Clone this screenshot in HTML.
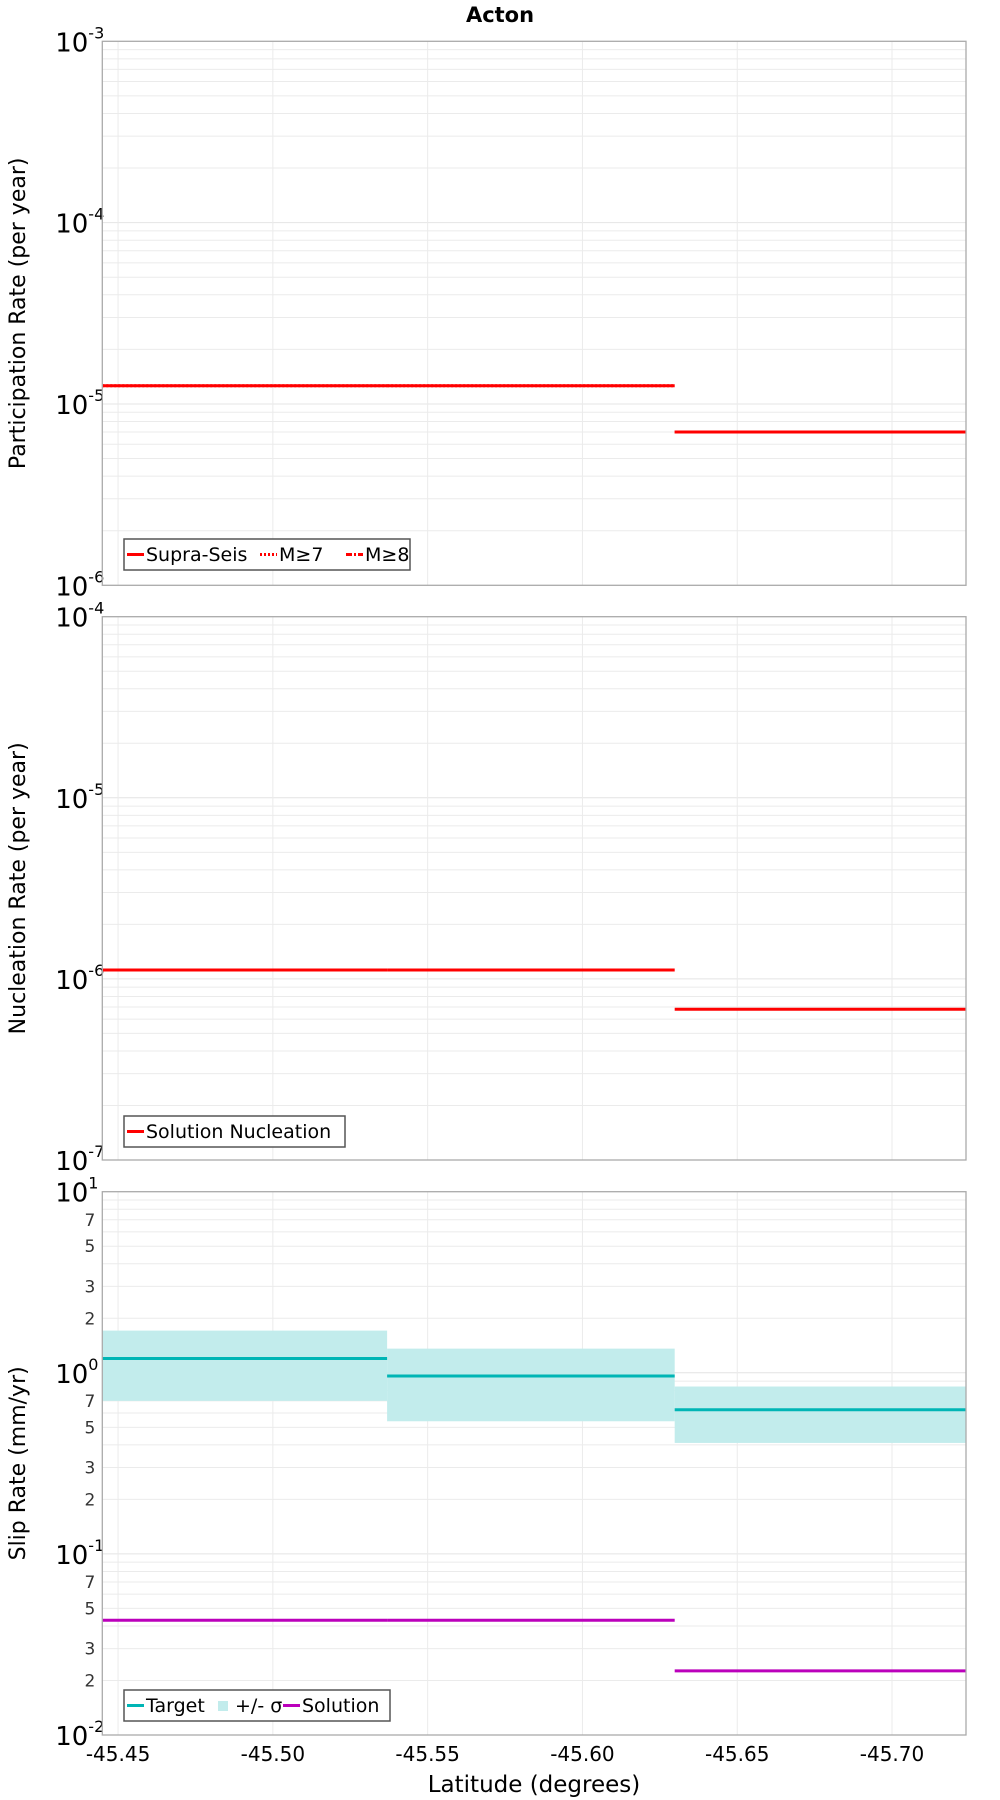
<!DOCTYPE html>
<html><head><meta charset="utf-8"><style>
html,body{margin:0;padding:0;background:#fff}
svg{display:block;font-family:"DejaVu Sans","Liberation Sans",sans-serif}
</style></head><body>
<svg id="c" width="1000" height="1800" viewBox="0 0 1000 1800" xmlns="http://www.w3.org/2000/svg">
<text x="500" y="22" text-anchor="middle" font-size="21" font-weight="bold">Acton</text>
</svg>
<script>
// Data
const segStart = [-45.4449, -45.5369, -45.6298];
const segEnd = [-45.5369, -45.6298, -45.7239];
const supraSeis = [1.26e-5, 1.26e-5, 7.0e-6];
const m7 = [1.26e-5, 1.26e-5, 7.0e-6];
const nucleation = [1.12e-6, 1.12e-6, 6.8e-7];
const slipTarget = [1.2, 0.96, 0.625];
const slipUpper = [1.71, 1.36, 0.84];
const slipLower = [0.70, 0.54, 0.41];
const slipSolution = [0.043, 0.043, 0.0226];
const xTicks = [-45.45, -45.50, -45.55, -45.60, -45.65, -45.70];
const xTickLabels = ["-45.45", "-45.50", "-45.55", "-45.60", "-45.65", "-45.70"];

const NS = "http://www.w3.org/2000/svg";
const svg = document.getElementById('c');
const L = 102.3, R = 966;
const xDom = [-45.4449, -45.7239];
function xs(v){ return L + (v - xDom[0]) / (xDom[1] - xDom[0]) * (R - L); }
function mk(tag, attrs, parent){ const e = document.createElementNS(NS, tag); for (const k in attrs) e.setAttribute(k, attrs[k]); (parent||svg).appendChild(e); return e; }

const panels = [
  {top:41.3, bot:585.3, lo:-6, hi:-3, title:"Participation Rate (per year)", minorLabels:false, name:"participation"},
  {top:616.7, bot:1160, lo:-7, hi:-4, title:"Nucleation Rate (per year)", minorLabels:false, name:"nucleation"},
  {top:1191.7, bot:1735, lo:-2, hi:1, title:"Slip Rate (mm/yr)", minorLabels:true, name:"slip-rate"}
];
panels.forEach(p => {
  p.ys = v => p.bot - (Math.log10(v) - p.lo) / (p.hi - p.lo) * (p.bot - p.top);
  const g = mk('g', {});
  
  
  p.g = g;
  for (let d = p.lo; d < p.hi; d++) {
    for (let m = 1; m <= 9; m++) {
      const v = m * Math.pow(10, d);
      const y = p.ys(v);
      if (m > 1) {
        const gl = mk('line', {x1:L, x2:R, y1:y, y2:y, stroke:'#ebebeb', 'stroke-width':1}, g);
        
        
      }
      if (p.minorLabels && [2,3,5,7].includes(m)) {
        const t = mk('text', {x:L-7, y:y+6, 'text-anchor':'end', 'font-size':17, fill:'#333'}, g);
        t.textContent = m;
        
        
      }
    }
  }
  for (let d = p.lo; d <= p.hi; d++) {
    const y = p.ys(Math.pow(10, d));
    if (d > p.lo && d < p.hi) {
      const gl = mk('line', {x1:L, x2:R, y1:y, y2:y, stroke:'#e4e4e4', 'stroke-width':1}, g);
      
      
    }
    const t = mk('text', {x:L-14, y:y+10, 'text-anchor':'end', 'font-size':26}, g);
    t.textContent = '10';
    
    
    const s = mk('text', {x:L-14, y:y-3, 'text-anchor':'start', 'font-size':16}, g);
    s.textContent = String(d);
    
    
  }
  xTicks.forEach(v => {
    const gl = mk('line', {x1:xs(v), x2:xs(v), y1:p.top, y2:p.bot, stroke:'#ebebeb', 'stroke-width':1}, g);
    
    
  });
  const yt = mk('text', {x:0, y:0, transform:`translate(25 ${(p.top+p.bot)/2}) rotate(-90)`, 'text-anchor':'middle', 'font-size':22}, g);
  yt.textContent = p.title;
  
  
});

function seg(p, arr, color, w, dash, name){
  arr.forEach((v, i) => {
    const y = p.ys(v);
    const a = {x1:xs(segStart[i]), x2:xs(segEnd[i]), y1:y, y2:y, stroke:color, 'stroke-width':w};
    if (dash) a['stroke-dasharray'] = dash;
    const l = mk('line', a, p.g);
    
    
  });
}
seg(panels[0], supraSeis, '#ff0000', 3, null, 'supra-seis-line');
seg(panels[0], m7, '#ff0000', 3, '2 2', 'm7-line');
seg(panels[1], nucleation, '#ff0000', 3, null, 'solution-nucleation-line');
const p3 = panels[2];
slipUpper.forEach((v, i) => {
  const y1 = p3.ys(v), y2 = p3.ys(slipLower[i]);
  const r = mk('rect', {x:xs(segStart[i]), y:y1, width:xs(segEnd[i]) - xs(segStart[i]), height:y2 - y1, fill:'#c2ecec'}, p3.g);
  
  
});
seg(p3, slipTarget, '#00b5b5', 3, null, 'target-line');
seg(p3, slipSolution, '#bb00bb', 3, null, 'solution-line');

panels.forEach(p => {
  const f = mk('rect', {x:L, y:p.top, width:R-L, height:p.bot-p.top, fill:'none', stroke:'#aaa', 'stroke-width':1.3}, p.g);
  
  
});

function legend(p, x, y, w, items){
  const lg = mk('g', {}, p.g);
  
  
  mk('rect', {x:x, y:y, width:w, height:31, fill:'#fff', stroke:'#555', 'stroke-width':1.5}, lg);
  let cx = x + 3;
  items.forEach(it => {
    const e = mk('g', {}, lg);
    
    
    if (it.rect) mk('rect', {x:cx+2, y:y+11, width:10, height:10, fill:it.color}, e);
    else {
      const a = {x1:cx, x2:cx+17, y1:y+15.5, y2:y+15.5, stroke:it.color, 'stroke-width':3};
      if (it.dash) a['stroke-dasharray'] = it.dash;
      mk('line', a, e);
    }
    const t = mk('text', {x:cx+19, y:y+22, 'font-size':19}, e);
    t.textContent = it.label;
    cx += it.w;
  });
}
legend(panels[0], 124, 539, 286, [
  {color:'#ff0000', label:'Supra-Seis', w:133},
  {color:'#ff0000', dash:'2 2', label:'M≥7', w:86},
  {color:'#ff0000', dash:'6 2 2 2', label:'M≥8', w:70}]);
legend(panels[1], 124, 1116, 221, [{color:'#ff0000', label:'Solution Nucleation', w:215}]);
legend(p3, 124, 1690, 266, [
  {color:'#00b5b5', label:'Target', w:89},
  {color:'#c2ecec', rect:true, label:'+/- σ', w:67},
  {color:'#bb00bb', label:'Solution', w:100}]);

xTicks.forEach((v, i) => {
  const t = mk('text', {x:xs(v), y:1761, 'text-anchor':'middle', 'font-size':20});
  t.textContent = xTickLabels[i];
  
  
});
const xt = mk('text', {x:534, y:1792, 'text-anchor':'middle', 'font-size':23});
xt.textContent = 'Latitude (degrees)';


</script>
</body></html>
